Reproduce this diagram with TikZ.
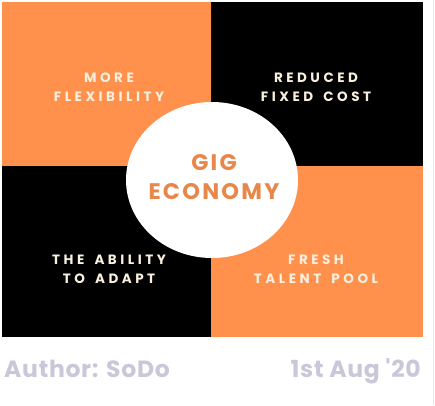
\documentclass[tikz,border=0pt]{standalone}
\usepackage{fontspec}
\usepackage{tikz}

\newfontfamily\quadfont[LetterSpace=26,WordSpace=1.6]{Poppins}
\newfontfamily\hubfont[LetterSpace=10]{Poppins}
\newfontfamily\footfont[LetterSpace=3]{Poppins}

\definecolor{gigorange}{HTML}{FF914D}
\definecolor{hubtext}{HTML}{E8874A}
\definecolor{creamtext}{HTML}{F8F0DE}
\definecolor{footgray}{HTML}{C9C7D8}
\definecolor{edgegray}{HTML}{E6E6E6}

\tikzset{
  quadlabel/.style={text=creamtext,align=center,inner sep=0pt,
    font=\quadfont\bfseries\fontsize{13.5}{19}\selectfont},
  hublabel/.style={text=hubtext,align=center,inner sep=0pt,
    font=\hubfont\bfseries\fontsize{22.5}{29}\selectfont},
  footlabel/.style={text=footgray,inner sep=0pt,
    font=\footfont\bfseries\fontsize{23.5}{25}\selectfont}
}

\begin{document}
\begin{tikzpicture}[x=1pt,y=-1pt]
\useasboundingbox (0,0) rectangle (435,405);
% four squares
\fill[gigorange] (2,2) rectangle (211,166);
\fill[black] (211,2) rectangle (423,166);
\fill[black] (2,166) rectangle (211,337);
\fill[gigorange] (211,166) rectangle (423,337);
% centre disc
\fill[white] (212,180) ellipse [x radius=86,y radius=78];
\draw[edgegray] (433.5,0) -- (433.5,405);

\node[quadlabel] (flex) at (109,87) {MORE\\FLEXIBILITY};
\node[quadlabel] (cost) at (316,87) {REDUCED\\FIXED COST};
\node[quadlabel] (adapt) at (109,269) {THE ABILITY\\TO ADAPT};
\node[quadlabel] (talent) at (316,269) {FRESH\\TALENT POOL};
\node[hublabel] (gig) at (214,177) {GIG\\ECONOMY};

\node[footlabel,anchor=base west] (author) at (4,377) {Author: SoDo};
\node[footlabel,anchor=base east] (date) at (421,377) {1st Aug '20};
\end{tikzpicture}
\end{document}
